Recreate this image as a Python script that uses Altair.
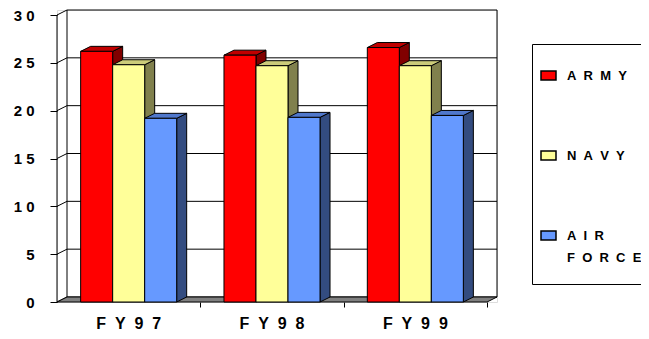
import altair as alt
import pandas as pd

# ---------------- data ----------------
categories = ["FY97", "FY98", "FY99"]
series = ["ARMY", "NAVY", "AIR FORCE"]
army = [26.2, 25.8, 26.6]
navy = [24.8, 24.7, 24.7]
air_force = [19.2, 19.3, 19.5]
y_ticks = [0, 5, 10, 15, 20, 25, 30]

# ---------------- style ----------------
front_colors = ["#FF0000", "#FFFF99", "#6699FF"]
top_colors = ["#C00000", "#CCCC7A", "#5078CC"]
side_colors = ["#800000", "#80804D", "#334C80"]
floor_color = "#808080"
FONT = "Liberation Sans"
NB = "\u00a0"
ZW = "\u200b"

W, H = 440, 292          # plot area (incl. depth)
FRONT_W = 430            # front width of the category axis
DX, DY = 10, 5           # 3-D depth in px
Y_MAX = 30
n_cat, n_ser = len(categories), len(series)
px_per_cat = FRONT_W / n_cat
px_per_unit = (H - DY) / Y_MAX
dx = DX / px_per_cat
dz = DY / px_per_unit
pad = 0.165
bw = (1 - 2 * pad) / n_ser

values = [army, navy, air_force]


def spaced(word, sep=NB + NB):
    return sep.join(list(word))


# ---------------- tables ----------------
front_rows, side_rows, top_rows = [], [], []
for j, (s, vals) in enumerate(zip(series, values)):
    for i, (c, v) in enumerate(zip(categories, vals)):
        x0 = i + pad + j * bw
        x1 = x0 + bw
        key = f"{c}-{s}"
        front_rows.append(dict(series=s, cat=c, x0=x0, x1=x1, v=v, base=0.0))
        side_rows.append(dict(key=key, fill=side_colors[j], x=x1, y=v, y2=0.0))
        side_rows.append(dict(key=key, fill=side_colors[j], x=x1 + dx, y=v + dz, y2=dz))
        top_rows.append(dict(key=key, fill=top_colors[j], y=v, x=x0, x2=x1))
        top_rows.append(dict(key=key, fill=top_colors[j], y=v + dz, x=x0 + dx, x2=x1 + dx))
front_df = pd.DataFrame(front_rows)
side_df = pd.DataFrame(side_rows)
top_df = pd.DataFrame(top_rows)

rule_rows = []
for t in y_ticks:
    rule_rows.append(dict(x=dx, x2=n_cat + dx, y=t + dz, y2=t + dz))   # back wall grid
    rule_rows.append(dict(x=0, x2=dx, y=t, y2=t + dz))                  # side wall grid
rule_rows.append(dict(x=dx, x2=dx, y=dz, y2=Y_MAX + dz))
rule_rows.append(dict(x=n_cat + dx, x2=n_cat + dx, y=dz, y2=Y_MAX + dz))
rule_rows.append(dict(x=0, x2=0, y=0, y2=Y_MAX))
rule_df = pd.DataFrame(rule_rows)

floor_df = pd.DataFrame([
    dict(y=0.0, x=0.0, x2=float(n_cat)),
    dict(y=dz, x=dx, x2=n_cat + dx),
])

label_df = pd.DataFrame(dict(xc=[i + 0.5 for i in range(n_cat)],
                             label=[spaced(c) for c in categories]))

# ---------------- scales / axes ----------------
xs = alt.Scale(domain=[0, n_cat + dx], nice=False, zero=False)
ys = alt.Scale(domain=[0, Y_MAX + dz], nice=False, zero=False)
x_axis = alt.Axis(values=[1, 2, 3], tickSize=5, tickColor="black", labels=False,
                  domain=False, grid=False, title=None)
y_axis = alt.Axis(values=y_ticks, tickSize=7, tickColor="black", domain=False, grid=False,
                  title=None, labelFont=FONT, labelFontWeight="bold", labelFontSize=15,
                  labelColor="black", labelPadding=16,
                  labelExpr=("length(datum.label) > 1 ? slice(datum.label,0,1) + '"
                             + NB + "' + slice(datum.label,1) : datum.label"))


def X(f):
    return alt.X(f, type="quantitative", scale=xs, axis=x_axis)


def Y(f):
    return alt.Y(f, type="quantitative", scale=ys, axis=y_axis)


def js_list(items):
    return "[" + ", ".join("'" + t + "'" for t in items) + "]"


def legend_lines(name):
    words = [spaced(w) for w in name.split(" ")]
    if len(words) == 1:
        return words
    words[-1] = words[-1] + NB * 4
    out = []
    for w in words:
        out += [w, ZW]
    return out


legend_expr = " : ".join(
    [f"datum.label == '{s}' ? {js_list(legend_lines(s))}" for s in series[:-1]]
    + [js_list(legend_lines(series[-1]))]
)

walls = alt.Chart(rule_df).mark_rule(color="black", strokeWidth=1).encode(
    x=X("x"), x2="x2", y=Y("y"), y2="y2")

floor = alt.Chart(floor_df).mark_area(orient="horizontal", fill=floor_color,
                                      stroke="black", strokeWidth=1).encode(
    y=Y("y"), x=X("x"), x2="x2")

sides = alt.Chart(side_df).mark_area(stroke="black", strokeWidth=1).encode(
    x=X("x"), y=Y("y"), y2="y2", detail="key:N",
    fill=alt.Fill("fill:N", scale=None))

tops = alt.Chart(top_df).mark_area(orient="horizontal", stroke="black", strokeWidth=1).encode(
    y=Y("y"), x=X("x"), x2="x2", detail="key:N",
    fill=alt.Fill("fill:N", scale=None))

fronts = alt.Chart(front_df).mark_rect(stroke="black", strokeWidth=1).encode(
    x=X("x0"), x2="x1", y=Y("v"), y2="base",
    color=alt.Color("series:N", scale=alt.Scale(domain=series, range=front_colors),
                    legend=alt.Legend(
                        title=" ", titleFontSize=10, titlePadding=5,
                        orient="none", legendX=475, legendY=34,
                        strokeColor="black", padding=8,
                        symbolType="M-1,-0.6H1V0.6H-1Z", symbolSize=225,
                        symbolStrokeColor="black", symbolStrokeWidth=1.5,
                        labelOffset=10, labelFont=FONT, labelFontWeight="bold",
                        labelFontSize=13, labelColor="black", labelBaseline="middle",
                        rowPadding=64, labelExpr=legend_expr,
                    )))

cat_labels = alt.Chart(label_df).mark_text(font=FONT, fontWeight="bold", fontSize=16,
                                           color="black", baseline="middle").encode(
    x=X("xc"), y=alt.value(H + 22), text="label:N")

chart = alt.layer(walls, floor, sides, tops, fronts, cat_labels).resolve_scale(
    fill="independent", color="independent"
).properties(
    width=W, height=H,
    padding={"left": 49, "top": 2, "right": 144, "bottom": 29},
    autosize=alt.AutoSizeParams(type="none"),
).configure_view(stroke=None).configure_legend(
    strokeWidth=1.5
).configure(style={"guide-label": {"lineHeight": 11}})

chart.save("out.html", embed_options={"renderer": "svg", "actions": False})
